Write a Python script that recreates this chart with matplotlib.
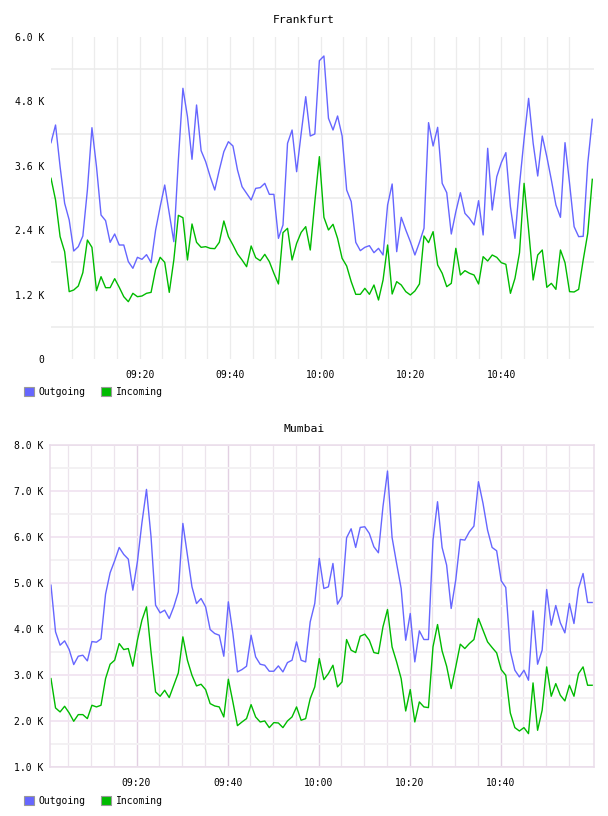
import matplotlib
matplotlib.use('Agg')
import matplotlib.pyplot as plt
from matplotlib.patches import Patch
from matplotlib.ticker import FixedLocator, FuncFormatter, NullFormatter

# ==== ==== Data (bytes/s, one sample per minute) ==== ====
fra_outgoing = [4031, 4360, 3584, 2901, 2590, 2012, 2093, 2292, 3149, 4310,
                3584, 2683, 2578, 2174, 2329, 2124, 2124, 1814, 1690, 1895,
                1857, 1944, 1795, 2404, 2839, 3242, 2714, 2186, 3708, 5044,
                4516, 3721, 4733, 3882, 3677, 3397, 3149, 3522, 3863, 4049,
                3969, 3522, 3211, 3087, 2963, 3180, 3193, 3273, 3068, 3068,
                2248, 2497, 4019, 4267, 3490, 4205, 4888, 4155, 4193, 5559,
                5646, 4485, 4267, 4528, 4155, 3149, 2932, 2174, 2019, 2081,
                2112, 1981, 2062, 1938, 2870, 3261, 2000, 2640, 2404, 2186,
                1938, 2174, 2435, 4404, 3969, 4317, 3273, 3099, 2329, 2745,
                3099, 2714, 2621, 2497, 2950, 2311, 3926, 2776, 3397, 3658,
                3845, 2839, 2248, 3250, 4100, 4857, 4019, 3410, 4155, 3770,
                3335, 2870, 2640, 4031, 3273, 2466, 2280, 2286, 3646, 4466]
fra_incoming = [3367, 2963, 2280, 2000, 1255, 1286, 1360, 1609, 2217, 2081,
                1273, 1534, 1329, 1329, 1497, 1336, 1161, 1068, 1224, 1161,
                1174, 1224, 1242, 1671, 1895, 1801, 1242, 1845, 2677, 2633,
                1845, 2516, 2174, 2081, 2093, 2062, 2056, 2174, 2572, 2280,
                2124, 1957, 1845, 1720, 2106, 1888, 1832, 1950, 1814, 1597,
                1398, 2354, 2435, 1845, 2155, 2360, 2466, 2031, 2930, 3770,
                2640, 2404, 2510, 2248, 1876, 1733, 1441, 1205, 1205, 1317,
                1205, 1379, 1099, 1472, 2124, 1211, 1441, 1379, 1255, 1193,
                1267, 1398, 2292, 2168, 2373, 1752, 1597, 1348, 1410, 2062,
                1565, 1646, 1597, 1565, 1398, 1907, 1826, 1938, 1894, 1795,
                1764, 1224, 1503, 1981, 3273, 2404, 1472, 1938, 2031, 1336,
                1410, 1298, 2031, 1795, 1255, 1249, 1298, 1845, 2342, 3348]

mum_outgoing = [4953, 3938, 3648, 3742, 3553, 3227, 3408, 3430, 3307, 3727,
                3713, 3785, 4757, 5222, 5483, 5773, 5621, 5519, 4844, 5461,
                6310, 7035, 6005, 4518, 4351, 4409, 4228, 4482, 4808, 6295,
                5606, 4917, 4554, 4663, 4482, 3989, 3902, 3865, 3408, 4591,
                3902, 3067, 3118, 3191, 3865, 3394, 3234, 3212, 3082, 3082,
                3198, 3067, 3270, 3321, 3720, 3321, 3285, 4155, 4554, 5534,
                4881, 4917, 5425, 4540, 4714, 5983, 6179, 5773, 6208, 6223,
                6078, 5788, 5657, 6658, 7434, 5991, 5425, 4881, 3756, 4337,
                3285, 3960, 3771, 3771, 5933, 6767, 5773, 5388, 4446, 5062,
                5947, 5933, 6114, 6237, 7202, 6731, 6150, 5773, 5700, 5048,
                4903, 3524, 3104, 2958, 3104, 2886, 4395, 3234, 3539, 4859,
                4083, 4511, 4134, 3916, 4554, 4119, 4881, 5207, 4576, 4576]
mum_incoming = [2922, 2284, 2197, 2320, 2175, 1994, 2139, 2139, 2052, 2342,
                2306, 2342, 2922, 3234, 3321, 3684, 3553, 3575, 3191, 3756,
                4192, 4482, 3500, 2632, 2538, 2668, 2509, 2777, 3046, 3829,
                3321, 2995, 2763, 2799, 2683, 2378, 2327, 2306, 2088, 2908,
                2414, 1899, 1979, 2052, 2356, 2088, 1979, 2001, 1856, 1965,
                1957, 1856, 2001, 2088, 2306, 2016, 2052, 2487, 2741, 3357,
                2900, 3031, 3212, 2741, 2850, 3771, 3539, 3488, 3843, 3887,
                3756, 3488, 3466, 4047, 4424, 3611, 3285, 2922, 2218, 2683,
                1979, 2415, 2306, 2291, 3611, 4097, 3524, 3191, 2705, 3176,
                3670, 3575, 3684, 3771, 4228, 3974, 3720, 3597, 3481, 3118,
                2995, 2175, 1856, 1783, 1856, 1725, 2828, 1798, 2233, 3176,
                2538, 2813, 2560, 2436, 2777, 2538, 3031, 3176, 2777, 2777]

# sample times, minutes after 09:00
fra_times = [0.42 + 1.0055*i for i in range(len(fra_outgoing))]
mum_times = [1.20 + 0.9992*i for i in range(len(mum_outgoing))]

major_minutes = [20, 40, 60, 80, 100]
minor_minutes = [m for m in range(5, 120, 5) if m not in major_minutes]

C_OUT = '#6666ff'
C_IN = '#00bb00'
MONO = 'DejaVu Sans Mono'

def fmt_time(m, pos=None):
    m = int(round(m))
    return '{0:02d}:{1:02d}'.format(9 + m // 60, m % 60)

def fmt_k(v, pos=None):
    if v == 0:
        return '0'
    return '{0:.1f} K'.format(v / 1000.)

def draw_panel(ax, times, outgoing, incoming, xlim, ylim, ymajor, yminor):
    ax.set_axisbelow(True)
    ax.plot(times, outgoing, color=C_OUT, lw=1.0)
    ax.plot(times, incoming, color=C_IN, lw=1.0)
    ax.set_xlim(*xlim)
    ax.set_ylim(*ylim)
    ax.xaxis.set_major_locator(FixedLocator(major_minutes))
    ax.xaxis.set_minor_locator(FixedLocator(minor_minutes))
    ax.xaxis.set_major_formatter(FuncFormatter(fmt_time))
    ax.xaxis.set_minor_formatter(NullFormatter())
    ax.yaxis.set_major_locator(FixedLocator(ymajor))
    ax.yaxis.set_minor_locator(FixedLocator(yminor))
    ax.yaxis.set_major_formatter(FuncFormatter(fmt_k))
    ax.yaxis.set_minor_formatter(NullFormatter())
    ax.tick_params(which='both', length=0)
    ax.tick_params(axis='x', pad=8, labelsize=7, labelfontfamily=MONO)
    ax.tick_params(axis='y', pad=5, labelsize=7, labelfontfamily=MONO)

fig = plt.figure(figsize=(6.08, 8.16), dpi=100)

# ---- Frankfurt ----
ax1 = fig.add_axes([51/608., 1 - 359/816., 543/608., 322/816.])
draw_panel(ax1, fra_times, fra_outgoing, fra_incoming, (0.42, 120.45), (0, 6000),
           [0, 1200, 2400, 3600, 4800, 6000], [600, 1800, 3000, 4200, 5400])
ax1.grid(False, which='major', axis='y')
ax1.grid(True, which='minor', axis='y', color='#ebebeb', lw=1.1)
ax1.grid(True, which='both', axis='x', color='#ececec', lw=0.9)
for s in ax1.spines.values():
    s.set_visible(False)

# ---- Mumbai ----
ax2 = fig.add_axes([50.3/608., 1 - 767/816., 543.2/608., 322/816.])
draw_panel(ax2, mum_times, mum_outgoing, mum_incoming, (1.05, 120.4), (1000, 8000),
           list(range(1000, 8001, 1000)), list(range(1500, 8000, 1000)))
ax2.grid(True, which='major', axis='y', color='#f2e6f2', lw=1.4)
ax2.grid(True, which='minor', axis='y', color='#f3f1f3', lw=1.4)
ax2.grid(True, which='major', axis='x', color='#e2d0e2', lw=1.0)
ax2.grid(True, which='minor', axis='x', color='#ece4ec', lw=0.9)
for s in ax2.spines.values():
    s.set_color('#eadcea')
    s.set_linewidth(1.1)

# ---- Titles and legends ----
fig.text(304/608., 1 - 20/816., 'Frankfurt', ha='center', va='center',
         family=MONO, fontsize=8.2)
fig.text(304/608., 1 - 429/816., 'Mumbai', ha='center', va='center',
         family=MONO, fontsize=8.2)

handles = [Patch(facecolor=C_OUT, edgecolor='#999999', lw=0.8),
           Patch(facecolor=C_IN, edgecolor='#999999', lw=0.8)]
for yc in (392, 800.7):
    fig.legend(handles, ['Outgoing', 'Incoming'], loc='center left',
               bbox_to_anchor=(24/608., 1 - yc/816.), ncol=2, frameon=False,
               borderpad=0, borderaxespad=0, handlelength=1.03, handleheight=1.03,
               handletextpad=0.5, columnspacing=1.6,
               prop={'family': MONO, 'size': 7})

fig.savefig('out.png', dpi=100)
